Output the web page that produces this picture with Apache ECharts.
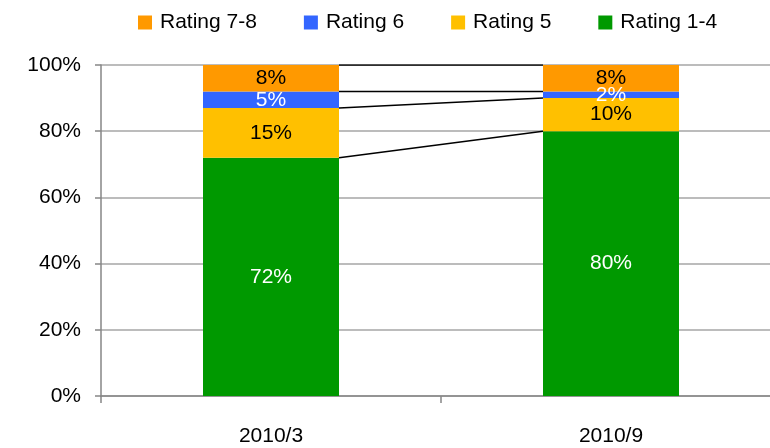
<!DOCTYPE html>
<html>
<head>
<meta charset="utf-8">
<script src="https://cdn.jsdelivr.net/npm/echarts@6/dist/echarts.min.js"></script>
<style>
  html, body { margin: 0; padding: 0; background: #fff; }
  #ratingChart { width: 770px; height: 448px; }
</style>
</head>
<body>
<div id="ratingChart"></div>
<script>
// data
var categories = ['2010/3', '2010/9'];
var rating14 = [72, 80];
var rating5 = [15, 10];
var rating6 = [5, 2];
var rating78 = [8, 8];
var yTicks = [0, 20, 40, 60, 80, 100];

var seriesNames = ['Rating 1-4', 'Rating 5', 'Rating 6', 'Rating 7-8'];
var seriesData = [rating14, rating5, rating6, rating78];
var colors = ['#009900', '#FFC000', '#3366FF', '#FF9900'];
var labelColors = ['#fff', '#000', '#fff', '#000'];

var font = 'Liberation Sans, Arial, sans-serif';

let chart = echarts.init(document.getElementById('ratingChart'));

let series = [];
// stacked bars
for (var i = 0; i < seriesNames.length; i++) {
  series.push({
    name: seriesNames[i],
    type: 'bar',
    stack: 'total',
    data: seriesData[i],
    barWidth: '40%',
    itemStyle: { color: colors[i] },
    label: {
      show: true,
      position: 'inside',
      formatter: '{c}%',
      color: labelColors[i],
      fontFamily: font,
      fontSize: 21
    }
  });
}

// connector lines between the stack tops (bar edges at 0.7 and 1.3 on the hidden axis)
var running = [0, 0];
for (var i = 0; i < seriesData.length; i++) {
  running[0] += seriesData[i][0];
  running[1] += seriesData[i][1];
  series.push({
    type: 'line',
    xAxisIndex: 1,
    data: [[0.7, running[0]], [1.3, running[1]]],
    symbol: 'none',
    silent: true,
    lineStyle: { color: '#000', width: 1.5 },
    z: 5
  });
}

let option = {
  animation: false,
  legend: {
    data: ['Rating 7-8', 'Rating 6', 'Rating 5', 'Rating 1-4'],
    left: 133,
    top: 7,
    itemWidth: 14,
    itemHeight: 14,
    itemGap: 47,
    icon: 'rect',
    textStyle: {
      fontFamily: font,
      fontSize: 21,
      color: '#000',
      padding: [0, 0, 0, 3]
    }
  },
  grid: {
    left: 101,
    top: 65,
    right: -11,
    bottom: 52,
    containLabel: false,
    outerBoundsMode: 'none'
  },
  xAxis: [
    {
      type: 'category',
      data: categories,
      axisLine: { lineStyle: { color: '#868686', width: 1.5 } },
      axisTick: { show: true, length: 7, lineStyle: { color: '#868686', width: 1.5 } },
      axisLabel: { color: '#000', fontFamily: font, fontSize: 21, margin: 30 }
    },
    {
      type: 'value',
      min: 0,
      max: 2,
      show: false
    }
  ],
  yAxis: {
    type: 'value',
    min: yTicks[0],
    max: yTicks[yTicks.length - 1],
    interval: yTicks[1] - yTicks[0],
    axisLine: { show: true, lineStyle: { color: '#868686', width: 1.5 } },
    axisTick: { show: true, length: 6, lineStyle: { color: '#868686', width: 1.5 } },
    splitLine: { lineStyle: { color: '#a6a6a6', width: 1.5 } },
    axisLabel: {
      formatter: '{value}%',
      color: '#000',
      fontFamily: font,
      fontSize: 21,
      margin: 20
    }
  },
  series: series
};

chart.setOption(option);
</script>
</body>
</html>
